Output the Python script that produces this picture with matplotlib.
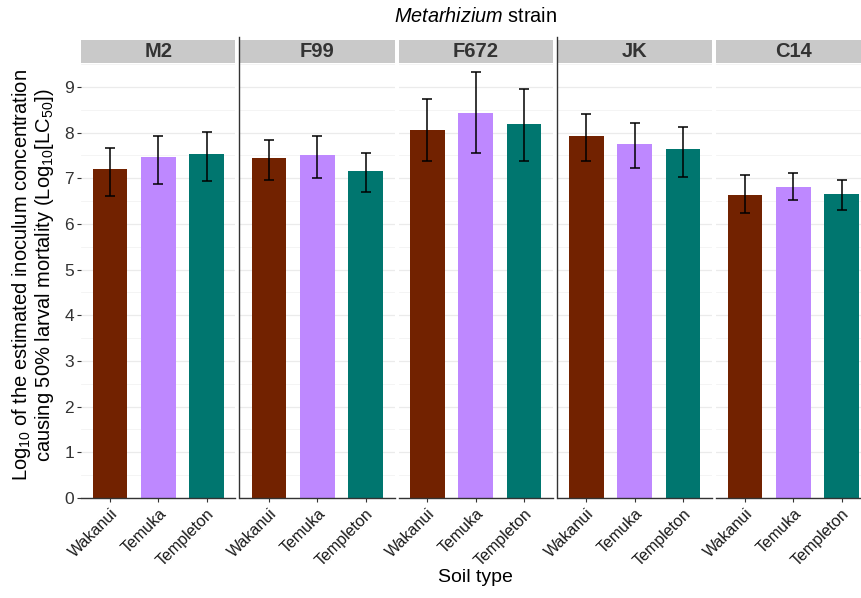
import matplotlib
matplotlib.use("Agg")
import matplotlib.pyplot as plt
from matplotlib.lines import Line2D
import numpy as np

plt.rcParams["font.family"] = ["Liberation Sans", "DejaVu Sans"]
plt.rcParams["mathtext.fontset"] = "custom"
plt.rcParams["mathtext.rm"] = "Liberation Sans"
plt.rcParams["mathtext.it"] = "Liberation Sans:italic"

# Data: log10 LC50 per strain and soil type, with error bar limits
strains = ["M2", "F99", "F672", "JK", "C14"]
soils = ["Wakanui", "Temuka", "Templeton"]
soil_colors = ["#722200", "#BE88FF", "#00766F"]

lc50 = {
    "M2":   [7.20, 7.47, 7.54],
    "F99":  [7.44, 7.50, 7.17],
    "F672": [8.06, 8.44, 8.20],
    "JK":   [7.93, 7.76, 7.64],
    "C14":  [6.64, 6.82, 6.66],
}
err_low = {
    "M2":   [6.61, 6.87, 6.95],
    "F99":  [6.97, 7.01, 6.69],
    "F672": [7.38, 7.55, 7.39],
    "JK":   [7.38, 7.23, 7.03],
    "C14":  [6.23, 6.52, 6.31],
}
err_high = {
    "M2":   [7.67, 7.93, 8.02],
    "F99":  [7.84, 7.92, 7.56],
    "F672": [8.74, 9.33, 8.96],
    "JK":   [8.40, 8.22, 8.12],
    "C14":  [7.07, 7.12, 6.97],
}
y_ticks = [0, 1, 2, 3, 4, 5, 6, 7, 8, 9]

W, H = 861, 598
fig = plt.figure(figsize=(W / 100, H / 100), dpi=100)

panel_left = [81, 240, 398.5, 557.5, 716]
panel_w = 154.5
panel_top, panel_bottom = 63, 498
strip_top = 40
ymax = 9.525

x = np.arange(1, len(soils) + 1)
for i, (strain, left) in enumerate(zip(strains, panel_left)):
    ax = fig.add_axes([left / W, (H - panel_bottom) / H, panel_w / W,
                       (panel_bottom - panel_top) / H])
    ax.set_xlim(0.4, 3.6)
    ax.set_ylim(0, ymax)
    ax.set_yticks(y_ticks)
    ax.set_yticks(np.arange(0.5, 9.6, 1.0), minor=True)
    ax.grid(True, which="major", axis="y", color="#EBEBEB", lw=0.9)
    ax.grid(True, which="minor", axis="y", color="#F3F3F3", lw=0.6)
    ax.set_axisbelow(True)
    for s in ["top", "right", "left"]:
        ax.spines[s].set_visible(False)
    ax.spines["bottom"].set_color("#333333")
    ax.spines["bottom"].set_linewidth(1.0)

    vals = np.array(lc50[strain])
    lo = np.array(err_low[strain])
    hi = np.array(err_high[strain])
    ax.bar(x, vals, width=0.72, color=soil_colors, zorder=2)
    ax.errorbar(x, vals, yerr=[vals - lo, hi - vals],
                fmt="none", ecolor="black", elinewidth=1.1, capsize=3.7,
                capthick=1.1, zorder=3)

    ax.set_xticks(x)
    ax.set_xticklabels(soils, rotation=45, ha="right", rotation_mode="anchor",
                       fontsize=11.5, color="#1a1a1a")
    ax.tick_params(axis="x", length=3, color="#333333", pad=3)
    if i == 0:
        ax.tick_params(axis="y", length=3, color="#333333", labelsize=12.5,
                       labelcolor="#333333", pad=2)
    else:
        ax.tick_params(axis="y", length=0, labelleft=False)
    ax.tick_params(axis="y", which="minor", length=0)

    # strip header
    strip = fig.add_axes([left / W, (H - panel_top) / H, panel_w / W,
                          (panel_top - strip_top) / H])
    strip.set_facecolor("#C9C9C9")
    strip.set_xticks([])
    strip.set_yticks([])
    for s in strip.spines.values():
        s.set_visible(False)
    strip.text(0.5, 0.48, strain, ha="center", va="center", fontsize=14.5,
               fontweight="bold", color="#333333", transform=strip.transAxes)

# dividing lines between strain groups
for xp in [238.5, 556.5]:
    fig.add_artist(Line2D([xp / W, xp / W], [(H - 498) / H, (H - 37) / H],
                          color="#333333", lw=1.0))

fig.text(476 / W, 1 - 16 / H, r"$\mathit{Metarhizium}$ strain", ha="center",
         va="center", fontsize=14.3)
fig.text(475 / W, 1 - 578 / H, "Soil type", ha="center", va="center",
         fontsize=14)
fig.text(33 / W, 1 - 275 / H,
         "Log$_{10}$ of the estimated inoculum concentration\n"
         "causing 50% larval mortality (Log$_{10}$[LC$_{50}$])",
         ha="center", va="center", rotation=90, fontsize=14.5,
         linespacing=1.0)

fig.savefig("out.png", dpi=100, facecolor="white")
